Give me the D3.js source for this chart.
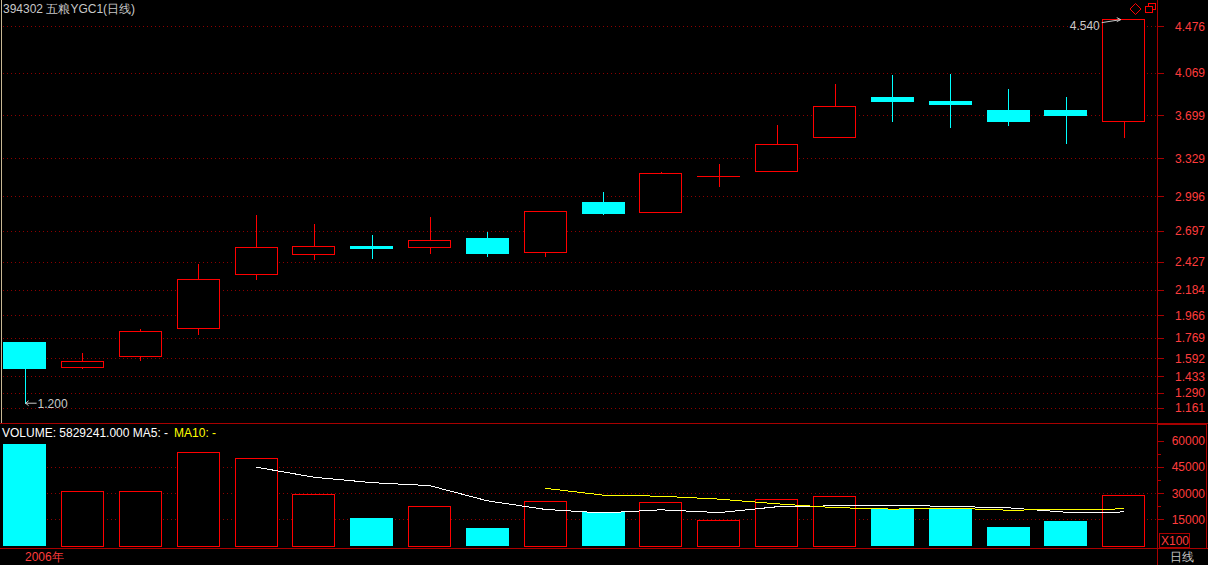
<!DOCTYPE html>
<html>
<head>
<meta charset="utf-8">
<script src="https://cdn.jsdelivr.net/npm/d3@7"></script>
<style>
body { margin: 0; background: #000; overflow: hidden; }
svg { display: block; font-family: "Liberation Sans", Arial, sans-serif; }
</style>
</head>
<body>
<svg id="chart" width="1208" height="565"></svg>
<script>
// daily bars
var openPrices  = [1.732, 1.517, 1.607, 1.851, 2.319, 2.493, 2.565, 2.554, 2.635, 2.511, 2.947, 2.858, 3.170, 3.214, 3.509, 3.859, 3.825, 3.746, 3.746, 3.648];
var closePrices = [1.500, 1.564, 1.824, 2.276, 2.554, 2.563, 2.542, 2.615, 2.498, 2.867, 2.846, 3.197, 3.172, 3.449, 3.779, 3.819, 3.792, 3.645, 3.697, 4.540];
var highPrices  = [1.732, 1.633, 1.842, 2.409, 2.835, 2.756, 2.661, 2.817, 2.687, 2.867, 3.034, 3.208, 3.277, 3.616, 3.972, 4.050, 4.059, 3.929, 3.859, 4.540];
var lowPrices   = [1.200, 1.508, 1.578, 1.804, 2.281, 2.455, 2.464, 2.507, 2.481, 2.481, 2.846, 2.858, 3.089, 3.214, 3.509, 3.654, 3.601, 3.619, 3.462, 3.515];
var volumes     = [58292.41, 31200, 31200, 53500, 50100, 29500, 15700, 22600, 10000, 25500, 19200, 24900, 14600, 26600, 28300, 20900, 21500, 10600, 14000, 28900];

var priceTicks  = [1.161, 1.290, 1.433, 1.592, 1.769, 1.966, 2.184, 2.427, 2.697, 2.996, 3.329, 3.699, 4.069, 4.476];
var volumeTicks = [15000, 30000, 45000, 60000];
var volumeMinor = [22500, 37500, 52500];

var RED = '#ff0000';
var CYAN = '#00ffff';
var GRID = '#8c0000';
var AXIS = '#a80000';
var LABEL = '#ff3c3c';
var GREY = '#c8c8c8';

var svg = d3.select('#chart');
var axisX = 1157.5;

//Scales
var x = d3.scaleBand()
    .domain(d3.range(openPrices.length))
    .range([-4.4, 1152.6])
    .paddingInner(0.26)
    .paddingOuter(0.13);
var bw = Math.round(x.bandwidth());

var y = d3.scaleLinear()
    .domain([1.161, 4.476])
    .range([407.7, 26]);

var yVol = d3.scaleLinear()
    .domain([0, 60000])
    .range([545.5, 440.7]);

function px(v){ return Math.round(v) + 0.5; }
function left(i){ return Math.round(x(i)); }
function mid(i){ return Math.round(x(i) + bw / 2) + 0.5; }
function isUp(i){ return closePrices[i] >= openPrices[i]; }

//Panel frame
var frame = svg.append('g').attr('shape-rendering', 'crispEdges');
frame.append('line')
    .attr('x1', 1.5).attr('x2', 1.5).attr('y1', 0).attr('y2', 423)
    .style('stroke', '#c8b894');
frame.append('line')
    .attr('x1', 0).attr('x2', 1208).attr('y1', 423.5).attr('y2', 423.5)
    .style('stroke', AXIS);
frame.append('line')
    .attr('x1', 0).attr('x2', 1208).attr('y1', 548.5).attr('y2', 548.5)
    .style('stroke', AXIS);
frame.append('line')
    .attr('x1', axisX).attr('x2', axisX).attr('y1', 0).attr('y2', 565)
    .style('stroke', AXIS);
frame.append('rect')
    .attr('x', axisX).attr('y', 424.5).attr('width', 49).attr('height', 124)
    .style('fill', 'none').style('stroke', AXIS);

//Grid lines
frame.selectAll('.pgrid')
    .data(priceTicks)
    .enter()
    .append('line')
    .attr('x1', 3).attr('x2', axisX - 1)
    .attr('y1', function(d){ return px(y(d)); })
    .attr('y2', function(d){ return px(y(d)); })
    .style('stroke', GRID)
    .style('stroke-dasharray', '1,3');
frame.selectAll('.vgrid')
    .data(volumeTicks.slice(0, 3))
    .enter()
    .append('line')
    .attr('x1', 3).attr('x2', axisX - 1)
    .attr('y1', function(d){ return px(yVol(d)); })
    .attr('y2', function(d){ return px(yVol(d)); })
    .style('stroke', GRID)
    .style('stroke-dasharray', '1,3');

//Right axes
frame.selectAll('.ptick')
    .data(priceTicks)
    .enter()
    .append('line')
    .attr('x1', axisX).attr('x2', axisX + 6)
    .attr('y1', function(d){ return px(y(d)); })
    .attr('y2', function(d){ return px(y(d)); })
    .style('stroke', AXIS);
svg.selectAll('.plabel')
    .data(priceTicks)
    .enter()
    .append('text')
    .attr('x', 1205)
    .attr('y', function(d){ return y(d) + 4.5; })
    .attr('text-anchor', 'end')
    .style('font-size', '12px')
    .style('fill', LABEL)
    .text(function(d){ return d3.format('.3f')(d); });

frame.selectAll('.vtick')
    .data(volumeTicks)
    .enter()
    .append('line')
    .attr('x1', axisX).attr('x2', axisX + 6)
    .attr('y1', function(d){ return px(yVol(d)); })
    .attr('y2', function(d){ return px(yVol(d)); })
    .style('stroke', AXIS);
frame.selectAll('.vminor')
    .data(volumeMinor)
    .enter()
    .append('line')
    .attr('x1', axisX).attr('x2', axisX + 3)
    .attr('y1', function(d){ return px(yVol(d)); })
    .attr('y2', function(d){ return px(yVol(d)); })
    .style('stroke', AXIS);
svg.selectAll('.vlabel')
    .data(volumeTicks)
    .enter()
    .append('text')
    .attr('x', 1205)
    .attr('y', function(d){ return yVol(d) + 4.5; })
    .attr('text-anchor', 'end')
    .style('font-size', '12px')
    .style('fill', LABEL)
    .text(function(d){ return d; });

frame.append('rect')
    .attr('x', 1159.5).attr('y', 533.5).attr('width', 30).attr('height', 14)
    .style('fill', 'none').style('stroke', AXIS);
svg.append('text')
    .attr('x', 1161).attr('y', 545)
    .style('font-size', '12px').style('fill', LABEL)
    .text('X100');

//Candles
var bars = d3.range(openPrices.length);
var candles = svg.append('g').attr('shape-rendering', 'crispEdges');

candles.selectAll('.wick')
    .data(bars)
    .enter()
    .append('line')
    .attr('x1', mid).attr('x2', mid)
    .attr('y1', function(i){ return Math.round(y(highPrices[i])); })
    .attr('y2', function(i){ return Math.round(y(lowPrices[i])) + 1; })
    .style('stroke', function(i){ return isUp(i) ? RED : CYAN; });

function bodyTop(i){ return Math.round(y(Math.max(openPrices[i], closePrices[i]))); }
function bodyH(i){ return Math.round(y(Math.min(openPrices[i], closePrices[i]))) - bodyTop(i); }
function flat(i){ return isUp(i) && bodyH(i) < 1; }

candles.selectAll('.body')
    .data(bars)
    .enter()
    .append('rect')
    .attr('x', function(i){ return isUp(i) && !flat(i) ? left(i) + 0.5 : left(i); })
    .attr('y', function(i){ return isUp(i) && !flat(i) ? bodyTop(i) + 0.5 : bodyTop(i); })
    .attr('width', function(i){ return isUp(i) && !flat(i) ? bw - 1 : bw; })
    .attr('height', function(i){
        if (flat(i)) return 1;
        return isUp(i) ? bodyH(i) : Math.max(bodyH(i), 3);
    })
    .style('fill', function(i){ return flat(i) ? RED : (isUp(i) ? '#000' : CYAN); })
    .style('stroke', function(i){ return isUp(i) && !flat(i) ? RED : 'none'; });

//Volume bars
candles.selectAll('.vol')
    .data(bars)
    .enter()
    .append('rect')
    .attr('x', function(i){ return isUp(i) ? left(i) + 0.5 : left(i); })
    .attr('y', function(i){
        var top = Math.round(yVol(volumes[i]));
        return isUp(i) ? top + 0.5 : top;
    })
    .attr('width', function(i){ return isUp(i) ? bw - 1 : bw; })
    .attr('height', function(i){ return Math.round(yVol(0)) - Math.round(yVol(volumes[i])); })
    .style('fill', function(i){ return isUp(i) ? '#000' : CYAN; })
    .style('stroke', function(i){ return isUp(i) ? RED : 'none'; });

//Moving averages of volume
function movingAverage(n){
    return bars.filter(function(i){ return i >= n - 1; }).map(function(i){
        return [i, d3.mean(volumes.slice(i - n + 1, i + 1))];
    });
}
var maLine = d3.line()
    .x(function(d){ return x(d[0]) + bw / 2; })
    .y(function(d){ return yVol(d[1]); });

candles.append('path')
    .attr('d', maLine(movingAverage(5)))
    .style('fill', 'none')
    .style('stroke', '#ffffff');
candles.append('path')
    .attr('d', maLine(movingAverage(10)))
    .style('fill', 'none')
    .style('stroke', '#ffff00');

//High / low markers
var hi = d3.maxIndex(highPrices);
var lo = d3.minIndex(lowPrices);
var hx = x(hi) + bw / 2, hy = y(highPrices[hi]);
svg.append('path')
    .attr('d', 'M' + (hx - 22) + ',' + (hy + 4) + 'L' + (hx - 3) + ',' + (hy + 1) +
        'M' + (hx - 7) + ',' + (hy - 1) + 'L' + (hx - 3) + ',' + (hy + 1) + 'L' + (hx - 7) + ',' + (hy + 3))
    .style('fill', 'none')
    .style('stroke', GREY);
svg.append('text')
    .attr('x', hx - 24).attr('y', hy + 11)
    .attr('text-anchor', 'end')
    .style('font-size', '12px').style('fill', GREY)
    .text(d3.format('.3f')(highPrices[hi]));

var lx = x(lo) + bw / 2, ly = y(lowPrices[lo]);
svg.append('path')
    .attr('d', 'M' + (lx + 1) + ',' + ly + 'L' + (lx + 12) + ',' + ly +
        'M' + (lx + 4) + ',' + (ly - 2.5) + 'L' + (lx + 1) + ',' + ly + 'L' + (lx + 4) + ',' + (ly + 2.5))
    .style('fill', 'none')
    .style('stroke', GREY);
svg.append('text')
    .attr('x', lx + 13).attr('y', ly + 5)
    .style('font-size', '12px').style('fill', GREY)
    .text(d3.format('.3f')(lowPrices[lo]));

//Top icons
svg.append('path')
    .attr('d', 'M1135.5,3.5L1141,9L1135.5,14.5L1130,9Z')
    .style('fill', 'none').style('stroke', RED);
frame.append('rect')
    .attr('x', 1148.5).attr('y', 3.5).attr('width', 7).attr('height', 6)
    .style('fill', 'none').style('stroke', RED);
frame.append('rect')
    .attr('x', 1145.5).attr('y', 6.5).attr('width', 7).attr('height', 6)
    .style('fill', '#000').style('stroke', RED);

//Texts
svg.append('text')
    .attr('x', 3).attr('y', 13)
    .style('font-size', '12px').style('fill', GREY)
    .text('394302 五粮YGC1(日线)');

var legend = svg.append('text')
    .attr('x', 2).attr('y', 437)
    .style('font-size', '12px');
legend.append('tspan').style('fill', '#ffffff')
    .text('VOLUME: ' + d3.format('.3f')(volumes[0] * 100) + ' MA5: -');
legend.append('tspan').style('fill', '#ffff00')
    .attr('dx', 6)
    .text('MA10: -');

svg.append('text')
    .attr('x', 25).attr('y', 561)
    .style('font-size', '12px').style('fill', LABEL)
    .text('2006年');
svg.append('text')
    .attr('x', 1170).attr('y', 561)
    .style('font-size', '12px').style('fill', GREY)
    .text('日线');
</script>
</body>
</html>
